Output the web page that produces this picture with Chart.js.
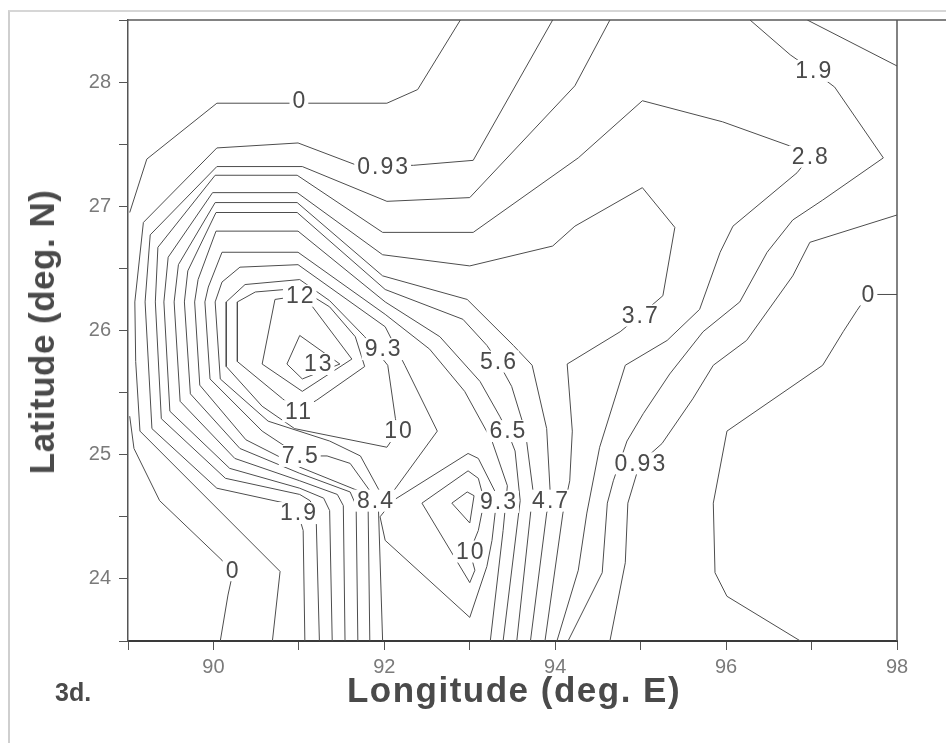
<!DOCTYPE html>
<html>
<head>
<meta charset="utf-8">
<script src="https://cdn.jsdelivr.net/npm/chart.js@4.4.1/dist/chart.umd.min.js"></script>
<style>
  html, body { margin: 0; padding: 0; background: #fff; }
  #wrap { position: relative; width: 946px; height: 743px; overflow: hidden; background: #fff; }
  #scan { position: absolute; left: 8px; top: 10px; width: 960px; height: 760px;
          border-left: 2px solid #cfcfcf; border-top: 2px solid #d6d6d6; }
  canvas { position: absolute; left: 0; top: 0; }
  .ttl { position: absolute; font-family: "Liberation Sans", Arial, sans-serif; font-weight: bold;
         color: #4a4a4a; white-space: nowrap; }
  #xtitle { left: 514px; top: 690px; font-size: 35px; letter-spacing: 1.5px; transform: translate(-50%, -50%); }
  #ytitle { left: 42px; top: 332px; font-size: 35px; letter-spacing: 0.5px; transform: translate(-50%, -50%) rotate(-90deg); }
  #panel { left: 55px; top: 678px; font-size: 25px; }
</style>
</head>
<body>
<div id="wrap">
  <div id="scan"></div>
  <canvas id="myChart" width="946" height="743"></canvas>
  <div class="ttl" id="xtitle">Longitude (deg. E)</div>
  <div class="ttl" id="ytitle">Latitude (deg. N)</div>
  <div class="ttl" id="panel">3d.</div>
</div>
<script>
// contour lines as [longitude, latitude] pairs
var c0_a = [[89.02,26.95],[89.22,27.38],[90.04,27.83],[92.03,27.83],[92.39,27.94],[92.89,28.5]];
var c0_b = [[89.02,25.31],[89.07,25.05],[89.37,24.63],[90.10,24.15],[90.23,24.06],[90.17,23.87],[90.08,23.5]];
var c0_c = [[98,26.29],[97.66,26.29],[97.53,26.16],[97.37,25.99],[97.13,25.72],[96.01,25.19],[95.85,24.61],[95.87,24.05],[96.01,23.86],[96.87,23.5]];

var c093_a = [[90.69,23.5],[90.78,24.06],[89.14,25.19],[89.09,25.75],[89.08,26.23],[89.18,26.87],[90.04,27.47],[90.99,27.51],[91.68,27.33],[92.34,27.33],[93.04,27.37],[93.97,28.5]];
var c093_b = [[98,26.93],[96.98,26.71],[96.78,26.44],[96.24,25.92],[95.85,25.72],[95.61,25.45],[95.25,25.09],[94.99,24.93],[94.85,24.61],[94.82,24.13],[94.64,23.5]];

var c19_a = [[91.07,23.5],[91.05,24.39],[90.99,24.53],[90.84,24.61],[90.04,24.73],[89.28,25.21],[89.20,26.23],[89.26,26.77],[90.04,27.32],[91.04,27.32],[92.03,27.04],[93.00,27.07],[94.23,27.97],[94.64,28.5]];
var c19_b = [[96.28,28.5],[96.75,28.22],[97.02,28.09],[97.27,27.96],[97.84,27.39],[97.13,27.05],[96.78,26.89],[96.48,26.63],[96.16,26.23],[95.73,25.99],[95.34,25.65],[95.03,25.33],[94.84,25.11],[94.68,24.79],[94.61,24.61],[94.55,24.05],[94.15,23.5]];
var c19_c = [[96.95,28.5],[98,28.13]];

var c28 = [[91.24,23.5],[91.20,24.55],[91.13,24.63],[91.01,24.68],[90.14,24.81],[89.39,25.29],[89.32,26.23],[89.35,26.67],[90.02,27.25],[90.98,27.25],[91.98,26.79],[93.04,26.79],[94.27,27.39],[95.02,27.85],[95.96,27.68],[96.77,27.48],[96.98,27.40],[96.83,27.27],[96.08,26.84],[95.93,26.63],[95.69,26.17],[95.31,25.92],[94.82,25.72],[94.52,25.06],[94.37,24.53],[94.27,24.07],[94.02,23.5]];

var c37 = [[91.39,23.5],[91.36,24.55],[91.29,24.65],[91.01,24.73],[90.19,24.89],[89.49,25.35],[89.42,26.23],[89.47,26.59],[89.99,27.11],[90.98,27.11],[91.98,26.61],[93.00,26.52],[93.97,26.68],[94.23,26.84],[95.02,27.15],[95.40,26.83],[95.26,26.28],[94.99,26.12],[94.76,25.99],[94.14,25.73],[94.20,25.19],[94.17,24.79],[94.09,24.53],[93.88,23.5]];

var c47 = [[91.54,23.5],[91.52,24.59],[91.45,24.68],[91.01,24.79],[90.25,24.97],[89.61,25.43],[89.54,26.23],[89.59,26.53],[90.02,27.03],[90.98,27.03],[91.98,26.44],[92.97,26.25],[93.51,25.88],[93.73,25.72],[93.90,25.21],[93.94,24.71],[93.94,24.63],[93.90,24.53],[93.71,23.5]];

var c56 = [[91.69,23.5],[91.67,24.59],[91.60,24.70],[91.01,24.85],[90.31,25.05],[89.73,25.49],[89.66,26.23],[89.70,26.48],[90.03,26.95],[90.98,26.95],[92.01,26.33],[92.92,26.09],[93.20,25.88],[93.33,25.75],[93.49,25.55],[93.65,25.19],[93.74,24.71],[93.55,23.5]];

var c65 = [[91.83,23.5],[91.81,24.59],[91.73,24.70],[91.01,24.90],[90.38,25.12],[89.84,25.56],[89.78,26.23],[89.82,26.41],[90.03,26.80],[90.99,26.80],[92.01,26.23],[92.65,25.95],[93.12,25.59],[93.35,25.31],[93.44,25.19],[93.53,25.03],[93.59,24.63],[93.39,23.5]];

var c75 = [[91.98,23.5],[91.93,24.59],[91.83,24.71],[91.60,24.93],[91.33,24.99],[91.01,24.99],[90.57,25.19],[89.96,25.61],[89.90,26.23],[89.94,26.35],[90.10,26.63],[90.99,26.63],[92.01,26.13],[92.53,25.85],[92.94,25.51],[93.26,25.11],[93.44,24.75],[93.39,24.39],[93.24,23.5]];

var c84 = [[91.89,24.63],[91.95,24.70],[91.72,24.99],[91.36,25.11],[90.64,25.27],[90.08,25.61],[90.02,26.23],[90.10,26.39],[90.31,26.51],[90.99,26.53],[92.01,26.03],[92.24,25.72],[92.62,25.19],[92.10,24.70],[91.89,24.63]];

var c93_e = [[92.10,24.63],[92.98,25.01],[93.10,24.97],[93.32,24.67],[93.26,24.31],[93.20,24.10],[93.00,23.69],[92.01,24.31],[91.95,24.50],[92.10,24.63]];

var c10_w = [[92.16,25.19],[92.13,25.29],[92.04,25.72],[91.77,25.95],[91.36,26.24],[91.01,26.41],[90.37,26.37],[90.15,26.23],[90.15,25.71],[90.57,25.39],[90.95,25.21],[92.03,25.06],[92.16,25.19]];
var c10_e = [[92.44,24.61],[92.98,24.87],[93.10,24.81],[93.17,24.63],[93.10,24.39],[93.00,24.22],[93.06,24.07],[93.00,23.97],[92.44,24.61]];
var c11_w = [[90.99,25.35],[91.21,25.44],[91.77,25.71],[91.66,25.95],[91.36,26.19],[91.01,26.34],[90.49,26.31],[90.28,26.23],[90.28,25.75],[90.81,25.45],[90.99,25.35]];
var c11_e = [[92.79,24.61],[92.97,24.70],[93.05,24.67],[93.00,24.45],[92.79,24.61]];
var c12 = [[91.01,26.28],[91.15,26.20],[91.62,25.77],[91.04,25.51],[90.57,25.73],[90.72,26.25],[91.01,26.28]];
var c13 = [[91.01,25.96],[91.48,25.73],[91.04,25.61],[90.86,25.73],[91.01,25.96]];

// inline contour labels
var labelText = ['0','0.93','12','13','9.3','5.6','11','10','6.5','7.5','8.4','9.3','4.7','1.9','10','0','3.7','0.93','1.9','2.8','0'];
var labelLon  = [91.00,91.98,91.01,91.22,91.98,93.33,90.99,92.16,93.44,91.01,91.89,93.33,93.94,90.99,93.00,90.22,94.99,94.99,97.02,96.98,97.66];
var labelLat  = [27.85,27.32,26.28,25.73,25.85,25.75,25.35,25.19,25.19,24.99,24.63,24.62,24.63,24.53,24.22,24.07,26.12,24.93,28.09,27.40,26.29];

// axis ranges
var lonMin = 89, lonMax = 98, latMin = 23.5, latMax = 28.5;

var lines = [c0_a, c0_b, c0_c, c093_a, c093_b, c19_a, c19_b, c19_c, c28, c37, c47, c56, c65, c75,
             c84, c93_e, c10_w, c10_e, c11_w, c11_e, c12, c13];

var datasets = lines.map(function(seg) {
    return {
        data: seg.map(function(p) { return {x: p[0], y: p[1]}; }),
        showLine: true,
        borderColor: '#4d4d4d',
        borderWidth: 1,
        pointRadius: 0,
        tension: 0,
        fill: false
    };
});

var frame = {
    id: 'frame',
    beforeDatasetsDraw: function(chart) {
        var ctx = chart.ctx, a = chart.chartArea;
        ctx.save();
        ctx.strokeStyle = '#5a5a5a';
        ctx.lineWidth = 1.5;
        ctx.beginPath();
        ctx.moveTo(a.left, a.top); ctx.lineTo(chart.width, a.top);
        ctx.moveTo(a.right, a.top); ctx.lineTo(a.right, a.bottom);
        ctx.stroke();
        ctx.restore();
    }
};

var contourLabels = {
    id: 'contourLabels',
    afterDatasetsDraw: function(chart) {
        var ctx = chart.ctx, xs = chart.scales.x, ys = chart.scales.y;
        ctx.save();
        ctx.font = '23px "Liberation Sans", Arial, sans-serif';
        ctx.letterSpacing = '2px';
        ctx.textAlign = 'center';
        ctx.textBaseline = 'middle';
        labelText.forEach(function(t, i) {
            var px = xs.getPixelForValue(labelLon[i]);
            var py = ys.getPixelForValue(labelLat[i]);
            var w = ctx.measureText(t).width + 4;
            ctx.fillStyle = '#fff';
            ctx.fillRect(px - w / 2, py - 11, w, 22);
            ctx.fillStyle = '#4a4a4a';
            ctx.fillText(t, px + 1, py + 1);
        });
        ctx.restore();
    }
};

var tickFont = {family: '"Liberation Sans", Arial, sans-serif', size: 20};

var ctx = document.getElementById('myChart').getContext('2d');
var chart = new Chart(ctx, {
    type: 'scatter',
    data: {datasets: datasets},
    options: {
        responsive: false,
        animation: false,
        events: [],
        layout: {padding: {left: 0, right: 49, top: 15, bottom: 62}},
        plugins: {legend: {display: false}, tooltip: {enabled: false}, title: {display: false}},
        scales: {
            x: {
                type: 'linear', position: 'bottom', min: lonMin, max: lonMax,
                afterFit: function(s) { s.height = 40; },
                ticks: {
                    stepSize: 1, autoSkip: false, maxRotation: 0, padding: 5,
                    color: '#7a7a7a', font: tickFont,
                    callback: function(v) { return v % 2 === 0 ? v : ''; }
                },
                grid: {drawOnChartArea: false, drawTicks: true, tickLength: 9, color: '#555'},
                border: {color: '#3a3a3a', width: 2}
            },
            y: {
                type: 'linear', position: 'left', min: latMin, max: latMax,
                afterFit: function(s) { s.width = 128; },
                ticks: {
                    stepSize: 0.5, autoSkip: false, padding: 8,
                    color: '#7a7a7a', font: tickFont,
                    callback: function(v) { return Math.abs(v - Math.round(v)) < 1e-6 ? v : ''; }
                },
                grid: {drawOnChartArea: false, drawTicks: true, tickLength: 9, color: '#555'},
                border: {color: '#555', width: 1.5}
            }
        }
    },
    plugins: [frame, contourLabels]
});
</script>
</body>
</html>
